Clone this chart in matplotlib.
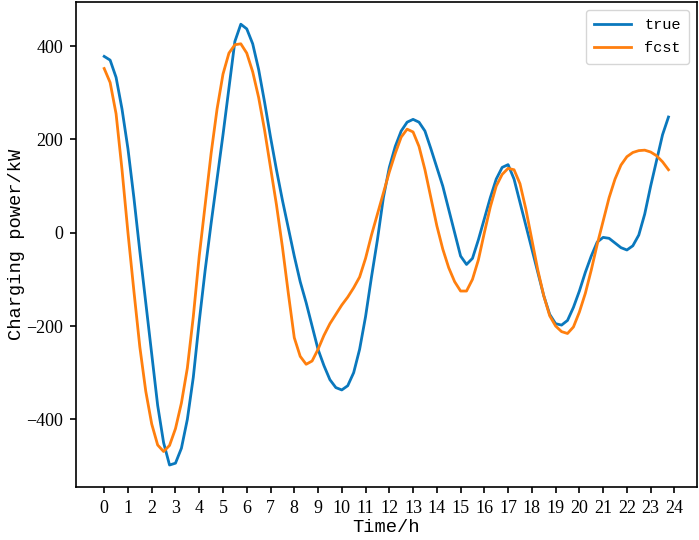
import numpy as np
import matplotlib
matplotlib.use("Agg")
import matplotlib.pyplot as plt

# 15-minute samples, 0 .. 23.75 h
hours = np.arange(96) * 0.25

true_kw = [
    378, 370, 333, 265,
    180, 75, -40, -150,
    -260, -370, -450, -498,
    -494, -462, -400, -310,
    -190, -80, 20, 115,
    210, 310, 410, 447,
    437, 405, 350, 280,
    205, 135, 70, 10,
    -50, -105, -150, -200,
    -250, -285, -315, -332,
    -337, -328, -300, -250,
    -180, -95, -15, 75,
    140, 185, 218, 237,
    243, 237, 218, 180,
    140, 100, 50, 0,
    -50, -68, -55, -15,
    30, 75, 115, 140,
    146, 115, 65, 15,
    -35, -85, -135, -175,
    -195, -198, -188, -160,
    -125, -85, -50, -20,
    -10, -12, -22, -32,
    -37, -28, -5, 40,
    100, 155, 210, 248,
]

fcst_kw = [
    352, 322, 255, 135,
    0, -125, -245, -340,
    -410, -455, -469, -456,
    -420, -365, -290, -180,
    -50, 60, 170, 265,
    340, 385, 403, 405,
    385, 345, 290, 220,
    140, 60, -30, -130,
    -225, -265, -282, -275,
    -250, -220, -195, -175,
    -155, -138, -118, -95,
    -55, -5, 40, 85,
    130, 170, 205, 222,
    216, 185, 135, 75,
    15, -35, -75, -105,
    -125, -125, -100, -58,
    0, 55, 100, 125,
    138, 135, 105, 50,
    -15, -80, -135, -178,
    -200, -212, -216, -202,
    -170, -130, -80, -25,
    25, 75, 115, 145,
    163, 172, 176, 177,
    173, 165, 152, 135,
]

x_ticks = list(range(25))
y_ticks = [-400, -200, 0, 200, 400]

plt.rcParams['font.family'] = ['Liberation Mono', 'DejaVu Sans']

fig = plt.figure(figsize=(6.99, 5.40), dpi=100)
ax = fig.add_axes([0.1087, 0.098, 0.888, 0.898])

ax.plot(hours, true_kw, color='#0a78bd', linewidth=2.0, label="true")
ax.plot(hours, fcst_kw, color='#ff7f0e', linewidth=2.0, label="fcst")

ax.set_xticks(x_ticks)
ax.set_yticks(y_ticks)
ax.tick_params(width=1.2, length=4, pad=5)
for lbl in ax.get_xticklabels() + ax.get_yticklabels():
    lbl.set_family(['Liberation Serif', 'DejaVu Sans'])
    lbl.set_fontsize(13)
for s in ax.spines.values():
    s.set_linewidth(1.2)

ax.set_xlabel("Time/h", fontsize=13.5, labelpad=2)
ax.set_ylabel("Charging power/kW", fontsize=13.5, labelpad=1)
ax.legend(loc="upper right", fontsize=11, handlelength=2.4,
          handletextpad=0.85, labelspacing=0.6, borderpad=0.55)

fig.savefig("out.png", dpi=100)
